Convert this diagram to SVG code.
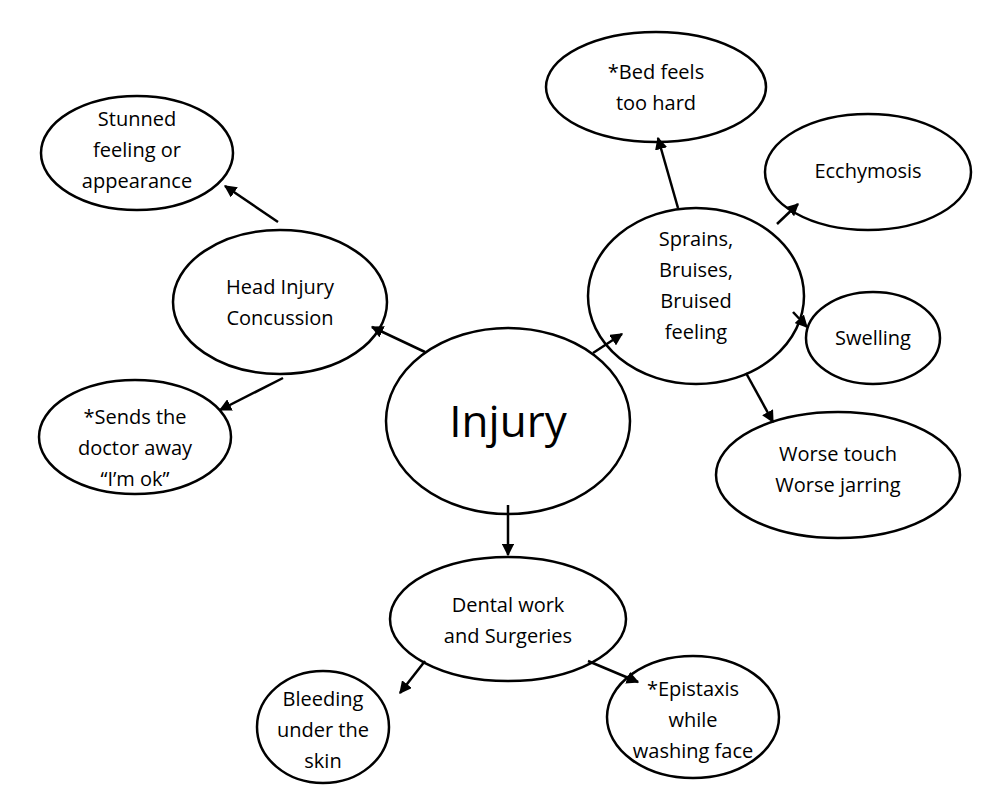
<svg xmlns="http://www.w3.org/2000/svg" width="1000" height="798" viewBox="0 0 1000 798">
<style>
ellipse{fill:#fff;stroke:#000;stroke-width:2.5}
text{font-family:"Open Sans","Liberation Sans",sans-serif;font-size:20px;text-anchor:middle;fill:#000}
line{stroke:#000;stroke-width:2.5;marker-end:url(#a)}
</style>
<defs><marker id="a" viewBox="0 0 10 10" refX="9" refY="5" markerWidth="5" markerHeight="5" orient="auto"><path d="M0,0L10,5L0,10z"/></marker></defs>
<rect width="1000" height="798" fill="#fff"/>
<g id="injury"><ellipse cx="508" cy="421" rx="122" ry="93"/><text x="508" y="437" style="font-size:44px">Injury</text></g>
<g id="head"><ellipse cx="280" cy="302" rx="107" ry="72"/><text x="280" y="294">Head Injury</text><text x="280" y="325">Concussion</text></g>
<g id="stunned"><ellipse cx="137" cy="153" rx="96" ry="57"/><text x="137" y="126">Stunned</text><text x="137" y="157">feeling or</text><text x="137" y="188">appearance</text></g>
<g id="sends"><ellipse cx="135" cy="437" rx="96" ry="57"/><text x="135" y="424">*Sends the</text><text x="135" y="455">doctor away</text><text x="135" y="486">“I’m ok”</text></g>
<g id="bed"><ellipse cx="656" cy="87" rx="110" ry="55"/><text x="656" y="79">*Bed feels</text><text x="656" y="110">too hard</text></g>
<g id="sprains"><ellipse cx="696" cy="296" rx="108" ry="88"/><text x="696" y="246">Sprains,</text><text x="696" y="277">Bruises,</text><text x="696" y="308">Bruised</text><text x="696" y="339">feeling</text></g>
<g id="ecch"><ellipse cx="868" cy="172" rx="103" ry="58"/><text x="868" y="178">Ecchymosis</text></g>
<g id="swelling"><ellipse cx="873" cy="338" rx="67" ry="46"/><text x="873" y="345">Swelling</text></g>
<g id="worse"><ellipse cx="838" cy="475" rx="122" ry="63"/><text x="838" y="461">Worse touch</text><text x="838" y="492">Worse jarring</text></g>
<g id="dental"><ellipse cx="508" cy="619" rx="118" ry="62"/><text x="508" y="612">Dental work</text><text x="508" y="643">and Surgeries</text></g>
<g id="bleeding"><ellipse cx="323" cy="727" rx="66" ry="56"/><text x="323" y="706">Bleeding</text><text x="323" y="737">under the</text><text x="323" y="768">skin</text></g>
<g id="epistaxis"><ellipse cx="693" cy="717" rx="86" ry="61"/><text x="693" y="696">*Epistaxis</text><text x="693" y="727">while</text><text x="693" y="758">washing face</text></g>
<g id="connectors">
<line x1="425" y1="352" x2="372" y2="327"/>
<line x1="278" y1="222" x2="225" y2="186"/>
<line x1="283" y1="378" x2="220" y2="410"/>
<line x1="593" y1="353" x2="622" y2="334"/>
<line x1="678" y1="208" x2="658" y2="138"/>
<line x1="777" y1="224" x2="798" y2="204"/>
<line x1="793" y1="312" x2="807" y2="327"/>
<line x1="746" y1="373" x2="773" y2="422"/>
<line x1="508" y1="505" x2="508" y2="555"/>
<line x1="425" y1="661" x2="400" y2="693"/>
<line x1="588" y1="661" x2="638" y2="682"/>
</g>
</svg>
